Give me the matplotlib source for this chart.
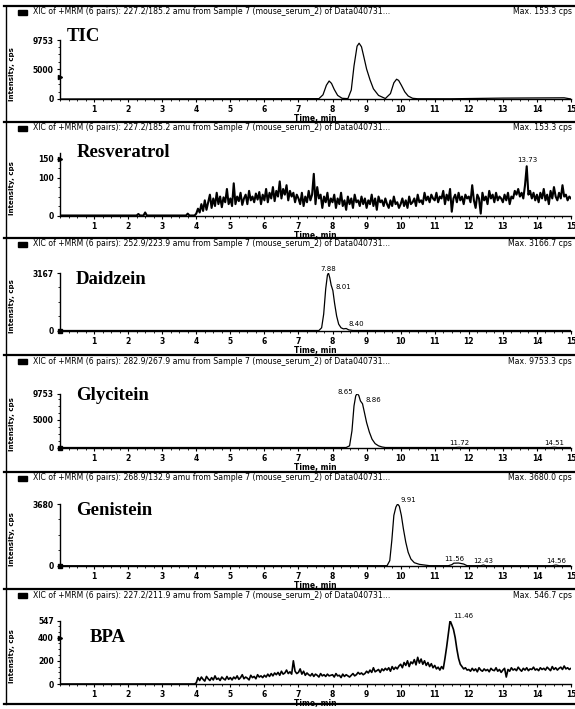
import numpy as np
import matplotlib
matplotlib.use("Agg")
import matplotlib.pyplot as plt
from matplotlib.lines import Line2D
from matplotlib.ticker import MultipleLocator, AutoMinorLocator

# ---------------- data ----------------
compounds = ["TIC", "Resveratrol", "Daidzein", "Glycitein", "Genistein", "BPA"]
headers = [
    "XIC of +MRM (6 pairs): 227.2/185.2 amu from Sample 7 (mouse_serum_2) of Data040731...",
    "XIC of +MRM (6 pairs): 227.2/185.2 amu from Sample 7 (mouse_serum_2) of Data040731...",
    "XIC of +MRM (6 pairs): 252.9/223.9 amu from Sample 7 (mouse_serum_2) of Data040731...",
    "XIC of +MRM (6 pairs): 282.9/267.9 amu from Sample 7 (mouse_serum_2) of Data040731...",
    "XIC of +MRM (6 pairs): 268.9/132.9 amu from Sample 7 (mouse_serum_2) of Data040731...",
    "XIC of +MRM (6 pairs): 227.2/211.9 amu from Sample 7 (mouse_serum_2) of Data040731...",
]
max_labels = ["Max. 153.3 cps", "Max. 153.3 cps", "Max. 3166.7 cps",
              "Max. 9753.3 cps", "Max. 3680.0 cps", "Max. 546.7 cps"]
y_maxes = [9753, 165, 3167, 9753, 3680, 547]
y_ticks = [[0, 5000, 9753], [0, 100, 150], [0, 3167], [0, 5000, 9753], [0, 3680], [0, 200, 400, 547]]
x_ticks = list(range(1, 16))

# TIC
tic_t = [0.0, 3.5, 7.6, 7.72, 7.82, 7.9, 7.97, 8.05, 8.15, 8.28, 8.45, 8.55, 8.63, 8.72, 8.78,
         8.85, 8.92, 9.0, 9.1, 9.2, 9.35, 9.55, 9.7, 9.8, 9.88, 9.94, 10.02, 10.12, 10.22,
         10.35, 10.5, 11.5, 13.0, 14.8, 15.0]
tic_y = [0, 30, 60, 700, 2300, 3000, 2600, 1600, 600, 120, 60, 1500, 5500, 8800, 9300,
         8700, 7000, 5000, 3200, 1700, 600, 80, 900, 2700, 3300, 3100, 2300, 1200, 500,
         120, 40, 40, 150, 200, 0]

# Resveratrol (sampled every 0.05 min from 4.0 min; zero before)
res_start, res_step = 4.0, 0.05
res_pre_t = [0.0, 2.25, 2.3, 2.35, 2.45, 2.5, 2.55, 3.7, 3.75, 3.8, 3.95]
res_pre_y = [0, 0, 4, 0, 0, 8, 0, 0, 5, 0, 0]
res_y = [5, 18, 8, 30, 12, 40, 15, 35, 55, 20, 45, 25, 60, 30, 50, 22, 48, 35, 70, 30,
         45, 25, 85, 30, 50, 38, 60, 28, 45, 55, 30, 65, 40, 50, 35, 58, 42, 62, 30, 55,
         40, 70, 35, 60, 45, 75, 38, 65, 50, 90, 45, 70, 55, 80, 40, 65, 50, 60, 35, 55,
         45, 30, 60, 25, 50, 35, 65, 40, 55, 110, 30, 75, 45, 55, 20, 50, 35, 60, 25, 45,
         35, 55, 20, 45, 30, 60, 25, 40, 15, 50, 30, 45, 20, 55, 35, 40, 25, 50, 30, 45,
         20, 40, 30, 55, 25, 45, 15, 50, 35, 40, 25, 45, 30, 20, 40, 25, 50, 30, 35, 20,
         30, 45, 25, 40, 20, 50, 30, 35, 45, 25, 55, 35, 40, 30, 60, 40, 50, 35, 55, 45,
         40, 60, 35, 50, 45, 65, 30, 55, 40, 70, 10, 45, 55, 35, 60, 40, 50, 30, 55, 45,
         50, 35, 80, 40, 20, 55, 45, 5, 60, 40, 50, 30, 65, 45, 55, 35, 60, 40, 50, 45,
         35, 55, 40, 60, 30, 50, 45, 65, 55, 70, 50, 60, 45, 80, 130, 55, 65, 45, 60, 40,
         55, 35, 60, 45, 70, 40, 55, 30, 65, 45, 75, 50, 40, 60, 45, 80, 50, 55, 40, 50, 45]

# Daidzein
dai_t = [0.0, 7.6, 7.68, 7.74, 7.8, 7.85, 7.88, 7.92, 7.96, 8.01, 8.06, 8.12, 8.18, 8.25,
         8.32, 8.4, 8.48, 8.6, 15.0]
dai_y = [0, 0, 150, 900, 2300, 3050, 3167, 2900, 2500, 2200, 1500, 800, 350, 150,
         90, 110, 30, 0, 0]

# Glycitein
gly_t = [0.0, 8.4, 8.5, 8.57, 8.63, 8.68, 8.72, 8.77, 8.82, 8.88, 8.93, 9.0, 9.08, 9.16,
         9.25, 9.35, 9.45, 9.55, 11.6, 11.72, 11.8, 14.4, 14.51, 14.6, 15.0]
gly_y = [0, 0, 300, 3000, 7500, 9300, 9753, 9400, 8400, 7900, 6500, 4500, 2800, 1500,
         700, 300, 100, 0, 0, 60, 0, 0, 60, 0, 0]

# Genistein
gen_t = [0.0, 9.6, 9.68, 9.74, 9.8, 9.86, 9.91, 9.96, 10.02, 10.08, 10.15, 10.22, 10.3,
         10.4, 10.55, 10.7, 10.85, 11.4, 11.5, 11.56, 11.7, 11.85, 11.95, 12.35, 12.43,
         12.5, 14.45, 14.56, 14.65, 15.0]
gen_y = [0, 0, 300, 1500, 3000, 3500, 3680, 3550, 3000, 2200, 1400, 800, 400,
         180, 80, 40, 0, 0, 60, 150, 160, 100, 0, 0, 40, 0, 0, 40, 0, 0]

# BPA (sampled every 0.05 min from 4.0 min)
bpa_start, bpa_step = 4.0, 0.05
bpa_y = [10, 55, 30, 60, 40, 25, 65, 45, 30, 55, 35, 70, 40, 50, 30, 60, 45, 35, 65, 40,
         55, 35, 60, 45, 70, 40, 55, 80, 45, 60, 50, 35, 75, 55, 65, 45, 80, 60, 70, 55,
         75, 60, 85, 65, 90, 70, 95, 80, 100, 75, 110, 85, 95, 120, 90, 105, 85, 200, 110, 90,
         100, 130, 85, 110, 75, 95, 80, 70, 90, 65, 85, 75, 60, 90, 70, 80, 65, 85, 70, 75,
         80, 60, 90, 70, 75, 55, 85, 65, 80, 70, 60, 75, 90, 70, 80, 100, 85, 95, 80, 90,
         110, 95, 120, 100, 140, 105, 115, 125, 100, 130, 115, 135, 120, 140, 110, 150, 125, 145, 130, 155,
         170, 140, 185, 160, 200, 150, 190, 175, 210, 165, 230, 180, 215, 170, 200, 160, 185, 150, 175, 140,
         160, 130, 145, 120, 150, 130, 220, 320, 430, 547, 510, 470, 400, 300, 220, 170, 150, 130, 140, 120,
         125, 110, 135, 115, 130, 105, 140, 120, 110, 130, 115, 125, 105, 135, 120, 115, 140, 110, 125, 100,
         120, 135, 60, 125, 110, 140, 120, 130, 115, 145, 125, 110, 135, 120, 140, 115, 130, 125, 145, 120,
         130, 115, 140, 125, 135, 120, 145, 130, 115, 150, 125, 140, 120, 135, 145, 125, 155, 130, 140, 125, 135]

# peak annotations: (panel, text, x, y)
peak_labels = [
    (1, "13.73", 13.73, 135),
    (2, "7.88", 7.88, 3167), (2, "8.01", 8.01, 2200), (2, "8.40", 8.40, 110),
    (3, "8.65", 8.72, 9753), (3, "8.86", 8.88, 7900), (3, "11.72", 11.72, 60), (3, "14.51", 14.51, 60),
    (4, "9.91", 9.91, 3680), (4, "11.56", 11.56, 150), (4, "12.43", 12.43, 40), (4, "14.56", 14.56, 40),
    (5, "11.46", 11.46, 547),
]
arrow_levels = [(0, 3600, ">"), (1, 150, ">"), (2, 0, "s"), (3, 0, "s"), (4, 0, "s"), (5, 400, ">")]

# ---------------- layout ----------------
W, H = 575, 709
fig = plt.figure(figsize=(W / 100, H / 100), dpi=100)
panel_px = [(99, 40.5), (215.5, 153), (330.5, 273), (447.5, 393.5), (565.7, 504), (684, 620.5)]
sep_lines = [6, 122, 238, 355, 472, 589]
title_pos = [(67, 41), (77, 157), (76, 284), (76, 400), (76, 515), (90, 642)]
ax_left, ax_right = 60, 571

res_t = res_pre_t + [res_start + i * res_step for i in range(len(res_y))]
res_all = res_pre_y + res_y
bpa_t = [0.0, 3.95] + [bpa_start + i * bpa_step for i in range(len(bpa_y))]
bpa_all = [0, 0] + bpa_y

traces = [(tic_t, tic_y), (res_t, res_all), (dai_t, dai_y), (gly_t, gly_y),
          (gen_t, gen_y), (bpa_t, bpa_all)]
line_widths = [0.9, 1.5, 0.9, 0.9, 0.9, 1.2]
small = ["Liberation Sans Narrow", "DejaVu Sans"]

axes = []
for i, (y0, yt) in enumerate(panel_px):
    ax = fig.add_axes([ax_left / W, 1 - y0 / H, (ax_right - ax_left) / W, (y0 - yt) / H])
    axes.append(ax)
    t, y = traces[i]
    ax.plot(t, y, color="black", lw=line_widths[i])
    ax.set_xlim(0, 15)
    ax.set_ylim(0, y_maxes[i])
    for s in ("top", "right"):
        ax.spines[s].set_visible(False)
    ax.spines["left"].set_linewidth(1.0)
    ax.spines["bottom"].set_linewidth(1.0)
    ax.set_xticks(x_ticks)
    ax.set_xticklabels([str(v) for v in x_ticks], fontsize=5.5, fontweight="bold")
    ax.set_yticks(y_ticks[i])
    ax.set_yticklabels([str(v) for v in y_ticks[i]], fontsize=5.5, fontweight="bold")
    ax.xaxis.set_minor_locator(MultipleLocator(0.25))
    ax.yaxis.set_minor_locator(AutoMinorLocator(4))
    ax.tick_params(axis="both", which="major", direction="out", length=2.5, width=0.8, pad=2)
    ax.tick_params(axis="both", which="minor", direction="out", length=1.2, width=0.6)
    ax.set_xlabel("Time, min", fontsize=5.5, fontweight="bold", labelpad=0)
    ax.set_facecolor("none")

    # title
    tx, ty = title_pos[i]
    fig.text(tx / W, 1 - ty / H, compounds[i], fontsize=13.5, fontweight="bold",
             family="Liberation Serif", ha="left", va="baseline")
    # y label
    fig.text(12 / W, 1 - ((y0 + yt) / 2 + 4) / H, "Intensity, cps", rotation=90,
             fontsize=5, fontweight="bold", ha="center", va="center", family=small)
    # header
    ly = sep_lines[i]
    fig.add_artist(Line2D([4 / W, 574 / W], [1 - ly / H, 1 - ly / H], color="black", lw=1.6))
    fig.add_artist(plt.Rectangle((18 / W, 1 - (ly + 9) / H), 9 / W, 5 / H, color="black"))
    fig.text(33 / W, 1 - (ly + 6) / H, headers[i], fontsize=5.6, ha="left", va="center",
             family=small)
    fig.text(572 / W, 1 - (ly + 6) / H, max_labels[i], fontsize=5.6, ha="right", va="center",
             family=small)

# bottom and left borders
fig.add_artist(Line2D([4 / W, 574 / W], [1 - 704 / H, 1 - 704 / H], color="black", lw=1.6))
fig.add_artist(Line2D([6 / W, 6 / W], [1 - 6 / H, 1 - 704 / H], color="black", lw=1.0))

# peak labels
for p, txt, x, y in peak_labels:
    ax = axes[p]
    dy = y_maxes[p] * 0.06
    if txt in ("8.65",):
        ax.text(x - 0.12, y - dy * 0.5, txt, fontsize=5, ha="right", va="bottom", family=small)
    elif txt in ("8.01", "8.86", "9.91", "8.40", "11.46"):
        ax.text(x + 0.08, y + dy * 0.3, txt, fontsize=5, ha="left", va="bottom", family=small)
    else:
        ax.text(x, y + dy * 0.3, txt, fontsize=5, ha="center", va="bottom", family=small)

# level markers on y axes
for p, lvl, m in arrow_levels:
    axes[p].plot([0], [lvl], marker=m, color="black", ms=3, clip_on=False)

fig.savefig("out.png", dpi=100)
